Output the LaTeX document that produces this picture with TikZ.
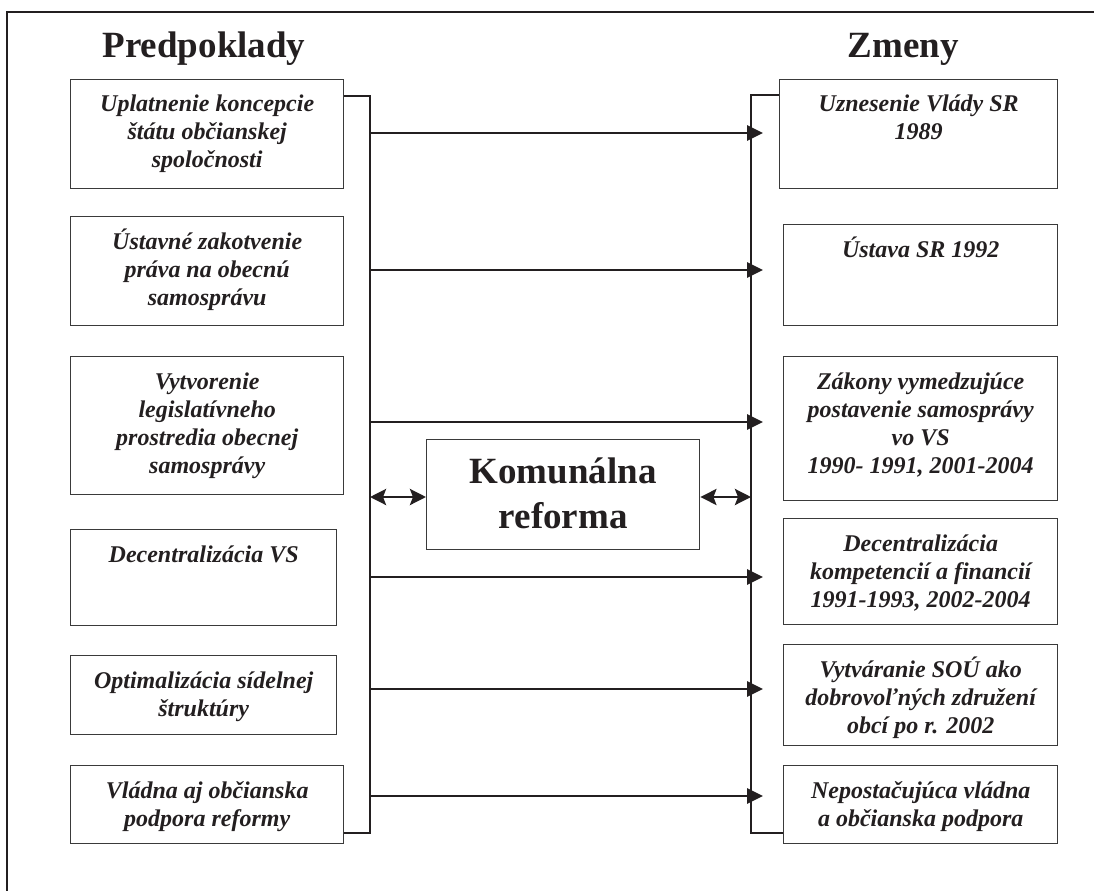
\documentclass[tikz,border=0pt]{standalone}
\usepackage{fontspec}
\setmainfont{Liberation Serif}
\usetikzlibrary{arrows.meta}
\definecolor{ink}{HTML}{231F20}
\definecolor{boxgray}{HTML}{3A3A3A}
\begin{document}
\begin{tikzpicture}[x=1pt,y=-1pt,
  box/.style={draw=boxgray, line width=1.4pt, inner sep=0pt, anchor=north west},
  lbl/.style={anchor=base, inner sep=0pt, text=ink, font=\fontsize{24}{28}\selectfont\bfseries\itshape},
  ttl/.style={anchor=base, inner sep=0pt, text=ink, font=\fontsize{37}{45}\selectfont\bfseries},
  conn/.style={line width=2.9pt, draw=ink},
  arr/.style={conn, -{Triangle[length=16pt,width=15pt]}},
  darr/.style={conn, {Stealth[length=16pt,width=16pt,inset=3pt]}-{Stealth[length=16pt,width=16pt,inset=3pt]}},
  frame/.style={draw=ink, line width=1.5pt}
]
\useasboundingbox (0,0) rectangle (1094,891);
\draw[frame] (1094,12) -- (7,12) -- (7,891);

% titles
\node[ttl] (tP) at (204,58) {Predpoklady};
\node[ttl] (tZ) at (903,58) {Zmeny};

% left boxes
\node[box, minimum width=273pt, minimum height=109pt] (L1) at (70,79) {};
\node[box, minimum width=273pt, minimum height=109pt] (L2) at (70,216) {};
\node[box, minimum width=273pt, minimum height=138pt] (L3) at (70,356) {};
\node[box, minimum width=266pt, minimum height=96pt] (L4) at (70,529) {};
\node[box, minimum width=266pt, minimum height=79pt] (L5) at (70,655) {};
\node[box, minimum width=273pt, minimum height=78pt] (L6) at (70,765) {};

% right boxes
\node[box, minimum width=278pt, minimum height=109pt] (R1) at (779,79) {};
\node[box, minimum width=274pt, minimum height=101pt] (R2) at (783,224) {};
\node[box, minimum width=274pt, minimum height=144pt] (R3) at (783,356) {};
\node[box, minimum width=274pt, minimum height=106pt] (R4) at (783,518) {};
\node[box, minimum width=274pt, minimum height=101pt] (R5) at (783,644) {};
\node[box, minimum width=274pt, minimum height=78pt] (R6) at (783,765) {};

% center box
\node[box, minimum width=273pt, minimum height=110pt] (C) at (426,439) {};

% labels
\node[lbl] (L1t) at ([yshift=-32pt]L1.north) {\parbox[t]{300pt}{\centering Uplatnenie koncepcie\\ štátu občianskej\\ spoločnosti}};
\node[lbl] (L2t) at ([yshift=-33pt]L2.north) {\parbox[t]{300pt}{\centering Ústavné zakotvenie\\ práva na obecnú\\ samosprávu}};
\node[lbl] (L3t) at ([yshift=-33pt]L3.north) {\parbox[t]{300pt}{\centering Vytvorenie\\ legislatívneho\\ prostredia obecnej\\ samosprávy}};
\node[lbl] (L4t) at ([yshift=-33pt]L4.north) {\parbox[t]{300pt}{\centering Decentralizácia VS}};
\node[lbl] (L5t) at ([yshift=-33pt]L5.north) {\parbox[t]{300pt}{\centering Optimalizácia sídelnej\\ štruktúry}};
\node[lbl] (L6t) at ([yshift=-33pt]L6.north) {\parbox[t]{300pt}{\centering Vládna aj občianska\\ podpora reformy}};

\node[lbl] (R1t) at ([yshift=-32pt]R1.north) {\parbox[t]{300pt}{\centering Uznesenie Vlády SR\\ 1989}};
\node[lbl] (R2t) at ([yshift=-33pt]R2.north) {\parbox[t]{300pt}{\centering Ústava SR 1992}};
\node[lbl] (R3t) at ([yshift=-33pt]R3.north) {\parbox[t]{300pt}{\centering Zákony vymedzujúce\\ postavenie samosprávy\\ vo VS\\ 1990- 1991, 2001-2004}};
\node[lbl] (R4t) at ([yshift=-33pt]R4.north) {\parbox[t]{300pt}{\centering Decentralizácia\\ kompetencií a financií\\ 1991-1993, 2002-2004}};
\node[lbl] (R5t) at ([yshift=-33pt]R5.north) {\parbox[t]{300pt}{\centering Vytváranie SOÚ ako\\ dobrovoľných združení\\ obcí po r. 2002}};
\node[lbl] (R6t) at ([yshift=-33pt]R6.north) {\parbox[t]{300pt}{\centering Nepostačujúca vládna\\ a občianska podpora}};

\node[ttl] (Ct) at ([yshift=-44pt]C.north) {\parbox[t]{300pt}{\centering Komunálna\\ reforma}};

% bracket coordinates
\coordinate (lt) at (370,96);
\coordinate (lb) at (370,833);
\coordinate (rt) at (751,95);
\coordinate (rb) at (751,833);
\coordinate (tip) at (763,0);

\draw[conn] (L1.north east |- lt) -- (lt) -- (lb) -- (L6.north east |- lb);
\draw[conn] (R1.north west |- rt) -- (rt) -- (rb) -- (R6.north west |- rb);

% arrow rows
\coordinate (y1) at (0,133);
\coordinate (y2) at (0,270);
\coordinate (y3) at (0,422);
\coordinate (y4) at (0,577);
\coordinate (y5) at (0,689);
\coordinate (y6) at (0,796);
\coordinate (yd) at (0,497);

\foreach \r in {y1,y2,y3,y4,y5,y6}
  \draw[arr] (lt |- \r) -- (tip |- \r);

\draw[darr] (lt |- yd) -- (C.west |- yd);
\draw[darr] (C.east |- yd) -- (rt |- yd);
\end{tikzpicture}
\end{document}
